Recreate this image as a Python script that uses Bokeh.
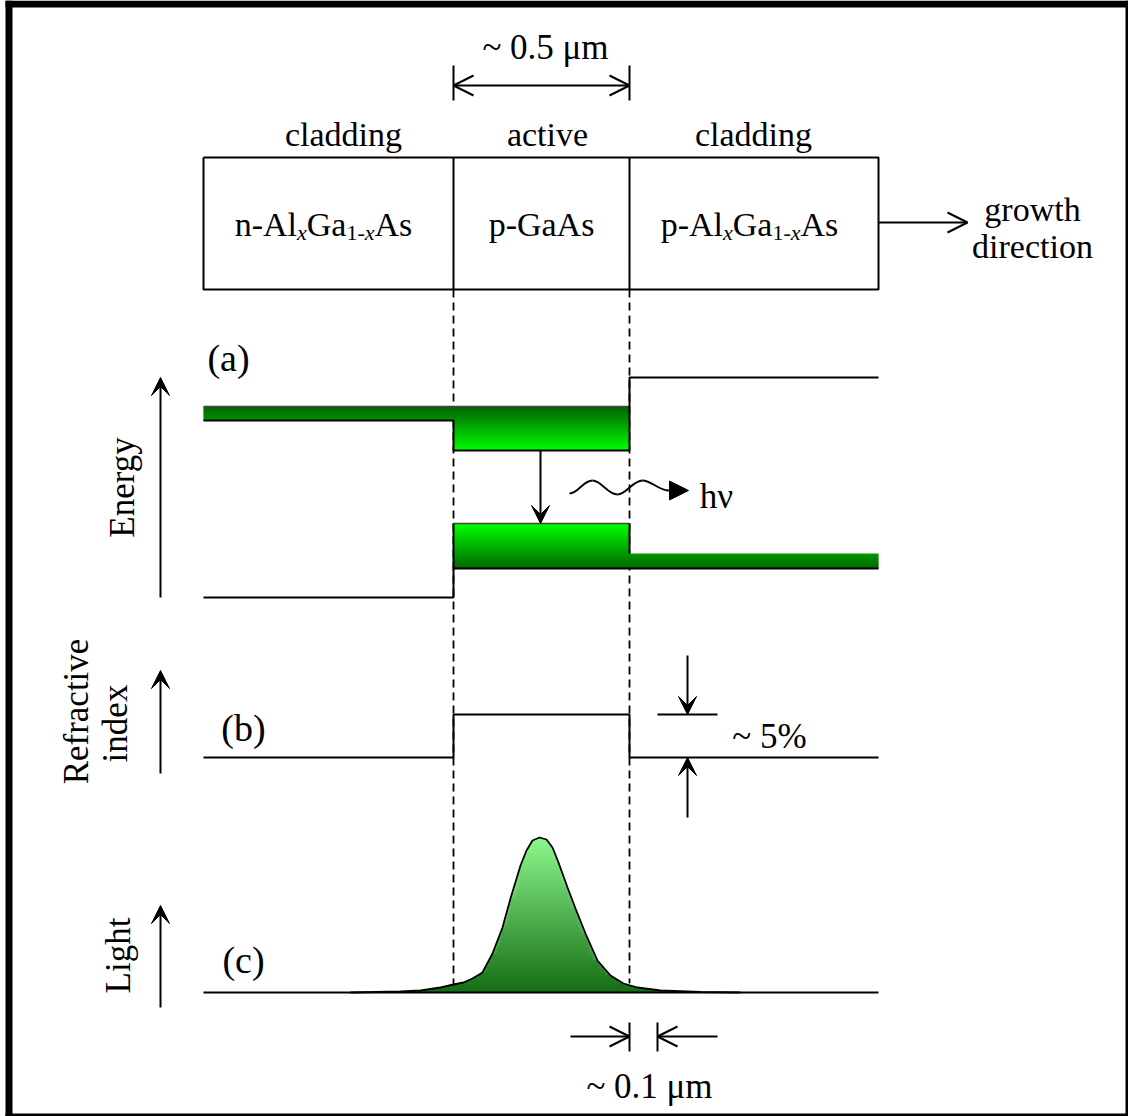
import numpy as np
from bokeh.plotting import figure
from bokeh.models import Range1d, Arrow, VeeHead, OpenHead, NormalHead
from bokeh.core.properties import value
from bokeh.embed import file_html
from bokeh.resources import INLINE

# ---------------- data (diagram units = reference pixels, y grows downward) -------------
layer_edges = [203, 453, 629, 878]               # n-cladding | active | p-cladding
region_labels = ["cladding", "active", "cladding"]
region_label_x = [343, 547, 753]

# (a) energy band edges
cb_top = 406            # top of conduction-band filling
cb_left = 420           # n-cladding conduction band edge
cb_well = 450           # active conduction band edge
cb_right = 377          # p-cladding conduction band edge
vb_well = 523           # active valence band edge
vb_fill_right = 553     # top of p-cladding hole filling
vb_bottom = 568         # p-cladding valence band edge
vb_left = 597           # n-cladding valence band edge

# (b) refractive index levels
n_clad = 757
n_active = 714

# (c) optical mode profile
light_x = [350, 400, 420, 440, 453, 463, 472, 482, 492, 502, 510, 520, 526, 532, 539,
           546, 552, 558, 567, 575, 585, 597, 610, 623, 637, 660, 700, 740]
light_y = [992, 991, 990, 987, 984, 982, 978, 972, 953, 927, 898, 865, 850, 840, 837,
           839, 847, 862, 887, 908, 933, 960, 975, 983, 987, 990, 991.5, 992]
light_base = 992

# photon wave control points (bezier segments)
wave_x0 = [569, 592, 617, 642]
wave_y0 = [493, 480, 494, 480]
wave_x1 = [592, 617, 642, 668]
wave_y1 = [480, 494, 480, 490]

FONT = value("Liberation Serif")
X0, X1, X2, X3 = layer_edges

p = figure(width=1128, height=1116, x_range=Range1d(0, 1128), y_range=Range1d(1116, 0),
           output_backend="svg", toolbar_location=None,
           x_axis_location=None, y_axis_location=None, min_border=0,
           outline_line_color=None, background_fill_color="white",
           border_fill_color="white")
p.grid.visible = False


def mix(c0, c1, t):
    return "#%02x%02x%02x" % tuple(int(round(a + (b - a) * t)) for a, b in zip(c0, c1))


def txt(x, y, s, size=34, align="center", baseline="alphabetic", angle=0.0, style="normal"):
    p.text(x=[x], y=[y], text=[s], text_font=FONT, text_font_size=f"{size}px",
           text_align=align, text_baseline=baseline, angle=angle, text_color="black",
           text_font_style=style)


def arrow(x0, y0, x1, y1, head):
    p.add_layout(Arrow(end=head, x_start=x0, y_start=y0, x_end=x1, y_end=y1,
                       line_width=2, line_color="black"))


def vee():
    return VeeHead(size=18, fill_color="black", line_color="black", line_width=1)


def openh():
    return OpenHead(size=20, line_color="black", line_width=2)


# ---------------- frame ----------------
p.quad(left=[5, 5, 1125, 5], right=[12, 1128, 1128, 1128],
       top=[0, 0, 0, 1113], bottom=[1116, 7, 1116, 1116],
       fill_color="black", line_color=None)

# ---------------- layer box ----------------
p.multi_line(xs=[[X0, X3, X3, X0, X0], [X1, X1], [X2, X2]],
             ys=[[157, 157, 289, 289, 157], [157, 289], [157, 289]],
             line_color="black", line_width=2)

for lx, lab in zip(region_label_x, region_labels):
    txt(lx, 134, lab)

# formula labels with subscripts
WN = {' ': 250, '-': 333, '1': 500, 'A': 722, 'G': 722, 'a': 444, 'l': 278,
      'n': 500, 'p': 500, 's': 389, 'x': 500}
WI = {'x': 444}


def formula(cx, base, pieces, main=34, sub=22, drop=8):
    widths = []
    for s, is_sub, ital in pieces:
        size = sub if is_sub else main
        tbl = WI if ital else WN
        widths.append(sum(tbl.get(c, 500) for c in s) * size / 1000.0)
    x = cx - sum(widths) / 2.0
    for (s, is_sub, ital), w in zip(pieces, widths):
        txt(x, base + (drop if is_sub else 0), s, size=sub if is_sub else main,
            align="left", style="italic" if ital else "normal")
        x += w


alga = [("-Al", 0, 0), ("x", 1, 1), ("Ga", 0, 0), ("1-", 1, 0), ("x", 1, 1), ("As", 0, 0)]
formula(323, 224, [("n", 0, 0)] + alga)
formula(541, 224, [("p-GaAs", 0, 0)])
formula(749, 224, [("p", 0, 0)] + alga)

# width of active layer
p.multi_line(xs=[[X1, X1], [X2, X2]], ys=[[65, 100], [65, 100]], line_color="black", line_width=2)
p.add_layout(Arrow(start=openh(), end=openh(), x_start=X1, x_end=X2, y_start=85, y_end=85,
                   line_width=2, line_color="black"))
txt(545, 47, "~ 0.5 μm", size=35)

# growth direction
arrow(X3, 222, 967, 222, openh())
txt(1032, 209, "growth")
txt(1032, 246, "direction")

# dashed guides
p.multi_line(xs=[[X1, X1], [X2, X2]], ys=[[289, 984], [289, 983]],
             line_color="black", line_width=1.8, line_dash="8 5")

# ---------------- (a) energy bands ----------------
cb_dark, cb_bright = (0, 100, 0), (0, 255, 0)
ys = np.arange(cb_top, cb_well)
for yv in ys:
    t = (yv - cb_top) / (cb_well - cb_top)
    p.quad(left=X0 if yv < cb_left else X1, right=X2, top=yv, bottom=yv + 1.4,
           fill_color=mix(cb_dark, cb_bright, t), line_color=None)
ys = np.arange(vb_well, vb_bottom)
for yv in ys:
    t = (yv - vb_well) / (vb_bottom - vb_well)
    p.quad(left=X1, right=X3 if yv >= vb_fill_right else X2, top=yv, bottom=yv + 1.4,
           fill_color=mix(cb_bright, cb_dark, t), line_color=None)

p.multi_line(xs=[[X0, X2], [X1, X2]], ys=[[cb_top, cb_top], [vb_well, vb_well]],
             line_color="#444444", line_width=1.5)
p.line(x=[X0, X1, X1, X2, X2, X3], y=[cb_left, cb_left, cb_well, cb_well, cb_right, cb_right],
       line_color="black", line_width=2)
p.line(x=[X0, X1, X1], y=[vb_left, vb_left, vb_well], line_color="black", line_width=2)
p.line(x=[X2, X2], y=[vb_well, vb_fill_right], line_color="black", line_width=2)
p.line(x=[X1, X3], y=[vb_bottom, vb_bottom], line_color="black", line_width=2)

arrow(540, cb_well, 540, vb_well, vee())
p.bezier(x0=wave_x0, y0=wave_y0, x1=wave_x1, y1=wave_y1,
         cx0=[x + 9 for x in wave_x0], cy0=wave_y0,
         cx1=[x - 10 for x in wave_x1], cy1=wave_y1,
         line_color="black", line_width=1.8)
p.add_layout(Arrow(end=NormalHead(size=19, fill_color="black", line_color="black"),
                   x_start=666, y_start=490, x_end=688, y_end=490,
                   line_width=1.5, line_color="black"))
txt(716, 496, "hν", size=35)

txt(228, 357, "(a)", size=38)
arrow(160, 597, 160, 377, vee())
txt(122, 487, "Energy", size=35, baseline="middle", angle=np.pi / 2)

# ---------------- (b) refractive index ----------------
p.line(x=[X0, X1, X1, X2, X2, X3], y=[n_clad, n_clad, n_active, n_active, n_clad, n_clad],
       line_color="black", line_width=2)
p.line(x=[657, 717], y=[n_active, n_active], line_color="black", line_width=2)
arrow(687, 655, 687, n_active, vee())
arrow(687, 817, 687, n_clad, vee())
txt(769, 736, "~ 5%", size=35)
txt(243, 727, "(b)", size=38)
arrow(160, 773, 160, 670, vee())
txt(76, 711, "Refractive", size=35, baseline="middle", angle=np.pi / 2)
txt(115, 723, "index", size=35, baseline="middle", angle=np.pi / 2)

# ---------------- (c) optical mode ----------------
lx = np.array(light_x, dtype=float)
h = light_base - np.array(light_y, dtype=float)
hmax = h.max()
nb = 40
levels = np.linspace(0, hmax, nb + 1)
lo_col, hi_col = (20, 108, 20), (140, 248, 140)
for i in range(nb):
    a, b = levels[i], levels[i + 1]
    t = (a + b) / 2 / hmax
    p.varea(x=lx, y1=light_base - np.minimum(h, a),
            y2=light_base - np.minimum(h, min(b + 0.8, hmax)),
            fill_color=mix(lo_col, hi_col, t))
p.line(x=light_x, y=light_y, line_color="black", line_width=1.8)
p.line(x=[X0, X3], y=[light_base, light_base], line_color="black", line_width=2)

txt(243, 959, "(c)", size=38)
arrow(160, 1007, 160, 905, vee())
txt(118, 955, "Light", size=35, baseline="middle", angle=np.pi / 2)

# mode tail width marker
p.multi_line(xs=[[629, 629], [657, 657]], ys=[[1022, 1051], [1022, 1051]],
             line_color="black", line_width=2)
arrow(570, 1036, 629, 1036, openh())
arrow(717, 1036, 657, 1036, openh())
txt(649, 1086, "~ 0.1 μm", size=35)

open("out.html", "w").write(file_html(p, INLINE))
